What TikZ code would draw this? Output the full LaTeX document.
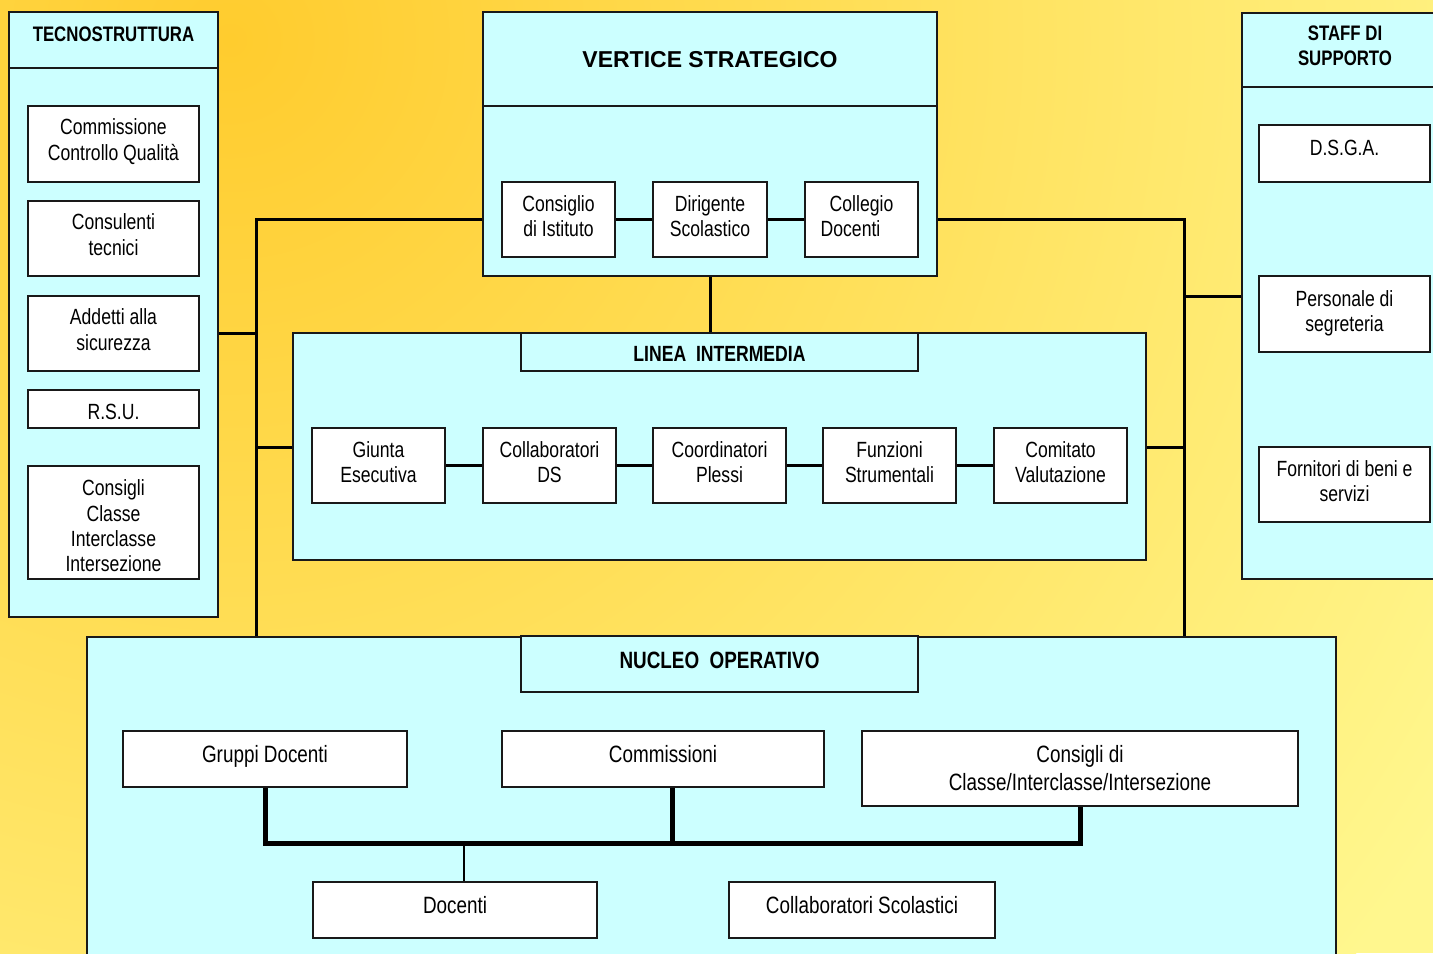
\documentclass[tikz,border=0pt]{standalone}
\usepackage{fontspec}
\setmainfont[FakeStretch=0.8]{Liberation Sans}
\newfontfamily\widefont{Liberation Sans}
\usetikzlibrary{calc}
\definecolor{bgorange}{RGB}{255,204,46}
\definecolor{bgyellow}{RGB}{255,247,142}
\definecolor{cyanfill}{RGB}{204,255,255}
\definecolor{edge}{RGB}{25,25,25}
% text block whose last baseline sits #1 above the node centre
\newcommand\tx[2]{\raisebox{#1}[0pt][0pt]{\begin{tabular}[b]{@{}c@{}}#2\end{tabular}}}
\tikzset{
  panel/.style={draw=edge, line width=1pt, fill=cyanfill},
  wbox/.style={draw=edge, line width=1pt, fill=white, inner sep=0pt, align=center,
     font=\fontsize{11pt}{13pt}\selectfont},
  nbox/.style={draw=edge, line width=1pt, fill=white, inner sep=0pt, align=center,
     font=\fontsize{11.8pt}{14pt}\selectfont},
  hbox/.style={draw=edge, line width=1pt, fill=cyanfill, inner sep=0pt, align=center,
     font=\bfseries\fontsize{11pt}{13pt}\selectfont},
  title/.style={inner sep=0pt, align=center, font=\bfseries\fontsize{10.5pt}{12.5pt}\selectfont},
  conn/.style={draw=black, line width=1.5pt},
  bus/.style={draw=black, line width=2.5pt, line join=miter},
  thinconn/.style={draw=black, line width=1pt}
}
\begin{document}
\begin{tikzpicture}[x=0.5pt, y=-0.5pt]
\useasboundingbox (0,0) rectangle (1433,953);
% background
\begin{scope}
\clip (0,0) rectangle (1433,953);
\fill[bgyellow] (0,0) rectangle (1433,953);
\shade[inner color=bgorange, outer color=bgyellow] (230,40) circle (1450);
\end{scope}

% ---------- panels ----------
\node[panel, minimum width=104.5pt, minimum height=302.5pt, inner sep=0pt] (tecno) at (113.5,314.5) {};
\draw[edge, line width=1pt] (9,68) -- (218,68);
\node[title] (tecnot) at (113.5,34) {TECNOSTRUTTURA};

\node[panel, minimum width=227pt, minimum height=132pt, inner sep=0pt] (vert) at (710,144) {};
\draw[edge, line width=1pt] (483,106) -- (937,106);
\node[inner sep=0pt, font=\widefont\bfseries\fontsize{11.5pt}{13pt}\selectfont] (vertt) at (710,60) {VERTICE STRATEGICO};

\node[panel, minimum width=110pt, minimum height=283pt, inner sep=0pt, anchor=north west] (staff) at (1241,12) {};
\draw[edge, line width=1pt] (1241,87) -- (1445,87);
\node[title] (stafft) at (1345,46) {STAFF DI\\SUPPORTO};

\node[panel, minimum width=426.5pt, minimum height=113.5pt, inner sep=0pt] (linea) at (719.5,446.5) {};
\node[panel, minimum width=624.5pt, minimum height=170pt, inner sep=0pt, anchor=north west] (nucleo) at (86,636) {};

% ---------- connectors between panels ----------
\coordinate (lt) at (256,219.5);
\coordinate (rt) at (1184,219.5);
\draw[conn] (vert.west |- lt) -- (lt) -- (lt |- nucleo.north);
\draw[conn] (vert.east |- rt) -- (rt) -- (rt |- nucleo.north);
\draw[conn] (tecno.east |- 0,333) -- (lt |- 0,333);
\draw[conn] (lt |- 0,447) -- (linea.west |- 0,447);
\draw[conn] (linea.east |- 0,447) -- (rt |- 0,447);
\draw[conn] (rt |- 0,296) -- (staff.west |- 0,296);
\draw[conn] (vert.south) -- (vert.south |- linea.north);

% ---------- tecnostruttura ----------
\node[wbox, minimum width=85.5pt, minimum height=38pt] (ccq) at (113.5,144) {\tx{-8.4pt}{Commissione\\Controllo Qualità}};
\node[wbox, minimum width=85.5pt, minimum height=37.5pt] (ct) at (113.5,238.5) {\tx{-8.4pt}{Consulenti\\tecnici}};
\node[wbox, minimum width=85.5pt, minimum height=37.5pt] (as) at (113.5,333.5) {\tx{-8.4pt}{Addetti alla\\sicurezza}};
\node[wbox, minimum width=85.5pt, minimum height=19pt] (rsu) at (113.5,409) {\tx{-5.4pt}{R.S.U.}};
\node[wbox, minimum width=85.5pt, minimum height=56.5pt, font=\fontsize{11pt}{12.65pt}\selectfont] (cons) at (113.5,522.5) {\tx{-24.6pt}{Consigli\\Classe\\Interclasse\\Intersezione}};

% ---------- vertice ----------
\node[wbox, minimum width=56.5pt, minimum height=37.5pt, font=\fontsize{11pt}{12.5pt}\selectfont] (cdi) at (558.5,219.5) {\tx{-8.65pt}{Consiglio\\di Istituto}};
\node[wbox, minimum width=57pt, minimum height=37.5pt, font=\fontsize{11pt}{12.5pt}\selectfont] (ds) at (710,219.5) {\tx{-8.65pt}{Dirigente\\Scolastico}};
\node[wbox, minimum width=56.5pt, minimum height=37.5pt, font=\fontsize{11pt}{12.5pt}\selectfont] (cd) at (861.5,219.5) {\tx{-8.65pt}{Collegio\\Docenti\hspace*{11pt}}};
\draw[conn] (cdi) -- (ds);
\draw[conn] (ds) -- (cd);

% ---------- staff ----------
\node[wbox, minimum width=85.5pt, minimum height=28.5pt] (dsga) at (1344.5,153.5) {\tx{-1.15pt}{D.S.G.A.}};
\node[wbox, minimum width=85.5pt, minimum height=38pt, font=\fontsize{11pt}{12.5pt}\selectfont] (ps) at (1344.5,314) {\tx{-8.65pt}{Personale di\\segreteria}};
\node[wbox, minimum width=85.5pt, minimum height=37.5pt, font=\fontsize{11pt}{12.5pt}\selectfont] (fb) at (1344.5,484.5) {\tx{-8.65pt}{Fornitori di beni e\\servizi}};

% ---------- linea intermedia ----------
\node[hbox, minimum width=198.5pt, minimum height=19pt] (lineat) at (719.5,352) {\tx{-4.9pt}{LINEA\ \ INTERMEDIA}};
\node[wbox, minimum width=66.5pt, minimum height=37.5pt, font=\fontsize{11pt}{12.5pt}\selectfont] (ge) at (378.5,465.5) {\tx{-8.65pt}{Giunta\\Esecutiva}};
\node[wbox, minimum width=66.5pt, minimum height=37.5pt, font=\fontsize{11pt}{12.5pt}\selectfont] (cds) at (549.5,465.5) {\tx{-8.65pt}{Collaboratori\\DS}};
\node[wbox, minimum width=66.5pt, minimum height=37.5pt, font=\fontsize{11pt}{12.5pt}\selectfont] (cp) at (719.5,465.5) {\tx{-8.65pt}{Coordinatori\\Plessi}};
\node[wbox, minimum width=66.5pt, minimum height=37.5pt, font=\fontsize{11pt}{12.5pt}\selectfont] (fs) at (889.5,465.5) {\tx{-8.65pt}{Funzioni\\Strumentali}};
\node[wbox, minimum width=66.5pt, minimum height=37.5pt, font=\fontsize{11pt}{12.5pt}\selectfont] (cv) at (1060.5,465.5) {\tx{-8.65pt}{Comitato\\Valutazione}};
\draw[conn] (ge) -- (cds);
\draw[conn] (cds) -- (cp);
\draw[conn] (cp) -- (fs);
\draw[conn] (fs) -- (cv);

% ---------- nucleo operativo ----------
\node[hbox, minimum width=198.5pt, minimum height=28pt, font=\bfseries\fontsize{11.8pt}{14pt}\selectfont] (nucleot) at (719.5,664) {\tx{-2.2pt}{NUCLEO\ \ OPERATIVO}};
\node[nbox, minimum width=142pt, minimum height=28pt] (gd) at (265,759) {\tx{-1.7pt}{Gruppi Docenti}};
\node[nbox, minimum width=161pt, minimum height=28pt] (com) at (663,759) {\tx{-1.7pt}{Commissioni}};
\node[nbox, minimum width=218pt, minimum height=37.5pt] (ccc) at (1080,768.5) {\tx{-10.95pt}{Consigli di\\Classe/Interclasse/Intersezione}};
\node[nbox, minimum width=142pt, minimum height=28pt] (doc) at (455,910) {\tx{-1.7pt}{Docenti}};
\node[nbox, minimum width=133pt, minimum height=28pt] (cs) at (862,910) {\tx{-1.7pt}{Collaboratori Scolastici}};
\coordinate (busl) at (265,843);
\coordinate (busr) at (1080,843);
\coordinate (busc) at (672,843);
\coordinate (busd) at (464,843);
\draw[bus] (gd.south) -- (busl) -- (busr) -- (ccc.south);
\draw[bus] (com.south -| busc) -- (busc);
\draw[thinconn] (busd) -- (doc.north -| busd);
\end{tikzpicture}
\end{document}
